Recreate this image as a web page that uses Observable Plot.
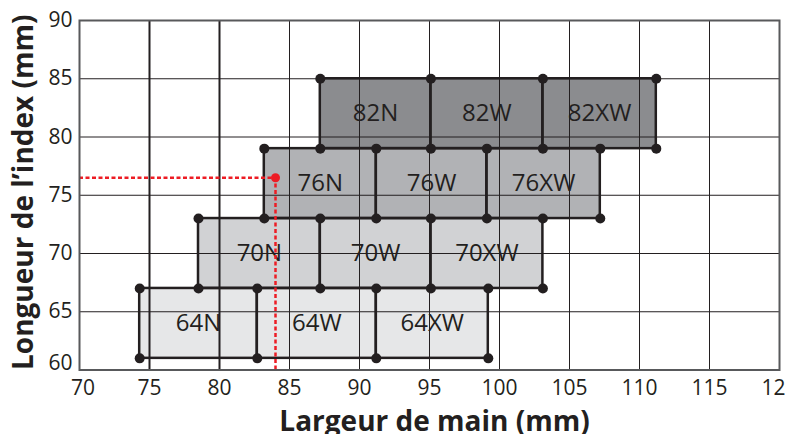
<!DOCTYPE html>
<html>
<head>
<meta charset="utf-8">
<script src="https://cdn.jsdelivr.net/npm/d3@7"></script>
<script src="https://cdn.jsdelivr.net/npm/@observablehq/plot@0.6"></script>
<style>
  html, body { margin: 0; padding: 0; background: #fff; overflow: hidden; }
  #chart { width: 786px; height: 434px; overflow: hidden; }
</style>
</head>
<body>
<div id="chart"></div>
<script>
// ---- data ----
const sizes = [64, 70, 76, 82];                 // index-length groups (rows)
const widthCodes = ["N", "W", "XW"];            // hand-width classes
const rowBottom = [61, 67, 73, 79];             // mm, lower bound of each row
const rowTop = [67, 73, 79, 85];                // mm, upper bound of each row
const rowEdges = [                              // hand-width boundaries per row (mm)
  [74.3, 82.7, 91.2, 99.2],
  [78.5, 87.2, 95.1, 103.1],
  [83.2, 91.2, 99.1, 107.2],
  [87.2, 95.1, 103.1, 111.2]
];
const rowFills = ["#e6e7e8", "#d1d2d4", "#b1b2b5", "#8b8c8f"];
const handWidth = [84];       // measured example (red)
const indexLength = [76.5];
const xTicks = [70, 75, 80, 85, 90, 95, 100, 105, 110, 115, 120];
const yTicks = [60, 65, 70, 75, 80, 85, 90];
const xLabel = "Largeur de main (mm)";
const yLabel = "Longueur de l’index (mm)";

// ---- derived tables ----
const cells = [];
const corners = [];
sizes.forEach((s, i) => {
  const e = rowEdges[i];
  widthCodes.forEach((w, j) => {
    cells.push({label: `${s}${w}`, x1: e[j], x2: e[j + 1], y1: rowBottom[i], y2: rowTop[i], fill: rowFills[i]});
  });
  e.forEach(x => {
    corners.push({x, y: rowBottom[i]});
    corners.push({x, y: rowTop[i]});
  });
});
const measured = handWidth.map((h, i) => ({hand: h, index: indexLength[i]}));
const ink = "#231f20";
const red = "#ed1c24";

const chart = Plot.plot({
  width: 786,
  height: 434,
  marginLeft: 79,
  marginRight: 7,
  marginTop: 20,
  marginBottom: 64.5,
  x: {domain: [70, 120]},
  y: {domain: [60, 90]},
  color: {type: "identity"},
  style: {fontFamily: "'Open Sans', sans-serif", color: ink, background: "#fff", overflow: "visible"},
  marks: [
    Plot.rect(cells, {x1: "x1", x2: "x2", y1: "y1", y2: "y2", fill: "fill"}),
    Plot.ruleX(xTicks.slice(1, -1), {stroke: ink, strokeWidth: d => (d === 75 || d === 80) ? 2 : 1}),
    Plot.ruleY(yTicks.slice(1, -1), {stroke: ink, strokeWidth: 1}),
    Plot.text(cells, {x: d => (d.x1 + d.x2) / 2, y: d => (d.y1 + d.y2) / 2, text: "label", fontSize: 24, fill: ink}),
    Plot.rect(cells, {x1: "x1", x2: "x2", y1: "y1", y2: "y2", fill: "none", stroke: ink, strokeWidth: 2.5}),
    Plot.dot(corners, {x: "x", y: "y", r: 5, fill: ink, stroke: "none"}),
    Plot.ruleY(measured, {y: "index", x1: 70, x2: "hand", stroke: red, strokeWidth: 2.5, strokeDasharray: "4,2.5"}),
    Plot.ruleX(measured, {x: "hand", y1: 60, y2: "index", stroke: red, strokeWidth: 2.5, strokeDasharray: "4,2.5"}),
    Plot.dot(measured, {x: "hand", y: "index", r: 4.5, fill: red, stroke: "none"}),
    Plot.frame({stroke: "#58595b", strokeWidth: 2}),
    Plot.axisX(xTicks.slice(1), {tickSize: 0, tickPadding: 10.5, fontSize: 21, label: null}),
    Plot.axisX(xTicks.slice(0, 1), {tickSize: 0, tickPadding: 10.5, fontSize: 21, label: null, dx: 3.5}),
    Plot.axisY(yTicks.slice(1), {tickSize: 0, tickPadding: 7, fontSize: 21, label: null}),
    Plot.axisY(yTicks.slice(0, 1), {tickSize: 0, tickPadding: 7, fontSize: 21, label: null, dy: -7}),
    Plot.text([xLabel], {frameAnchor: "bottom", textAnchor: "middle", lineAnchor: "middle", dx: 5, dy: 52, text: d => d, fontSize: 28, fontWeight: "bold", fill: ink}),
    Plot.text([yLabel], {frameAnchor: "left", textAnchor: "middle", lineAnchor: "middle", dx: -55, dy: -3, rotate: -90, text: d => d, fontSize: 28, fontWeight: "bold", fill: ink})
  ]
});
document.getElementById("chart").appendChild(chart);
</script>
</body>
</html>
